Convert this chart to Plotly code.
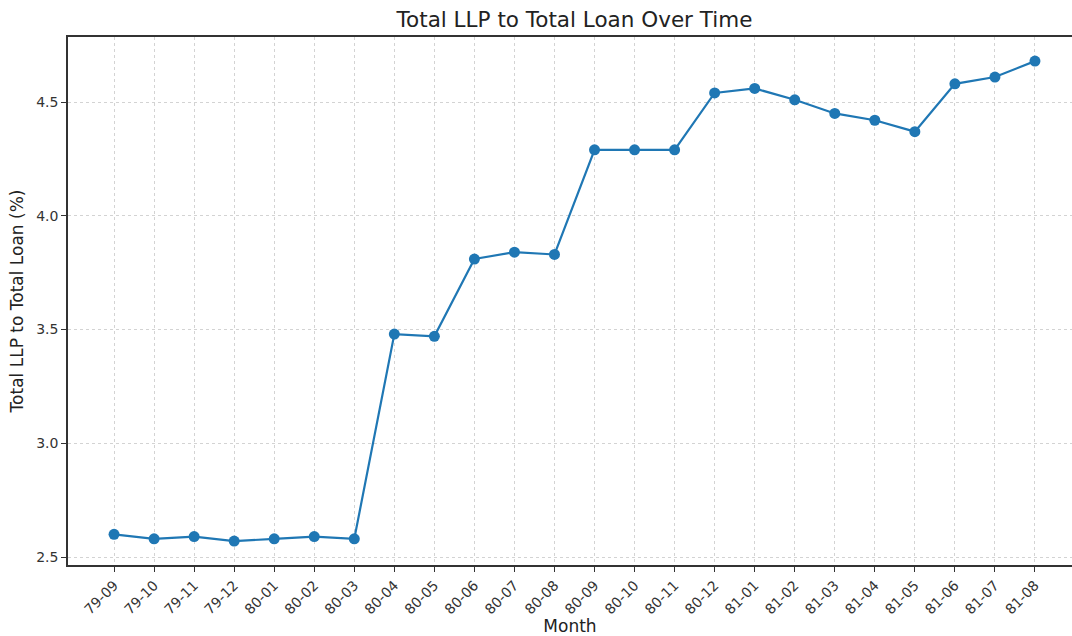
import plotly.graph_objects as go

months = ["79-09", "79-10", "79-11", "79-12", "80-01", "80-02", "80-03", "80-04",
          "80-05", "80-06", "80-07", "80-08", "80-09", "80-10", "80-11", "80-12",
          "81-01", "81-02", "81-03", "81-04", "81-05", "81-06", "81-07", "81-08"]
llp_ratio = [2.60, 2.58, 2.59, 2.57, 2.58, 2.59, 2.58, 3.48,
             3.47, 3.81, 3.84, 3.83, 4.29, 4.29, 4.29, 4.54,
             4.56, 4.51, 4.45, 4.42, 4.37, 4.58, 4.61, 4.68]
y_ticks = [2.5, 3.0, 3.5, 4.0, 4.5]
y_tick_text = ["2.5", "3.0", "3.5", "4.0", "4.5"]

idx = list(range(len(months)))

fig = go.Figure()
fig.add_trace(go.Scatter(
    x=idx, y=llp_ratio, mode="lines+markers",
    line=dict(color="#1f77b4", width=2.2),
    marker=dict(color="#1f77b4", size=11),
    showlegend=False,
))

font_family = "DejaVu Sans"
fig.update_layout(
    width=1072, height=636,
    margin=dict(l=68, r=0, t=37, b=71, autoexpand=False),
    paper_bgcolor="white", plot_bgcolor="white",
    font=dict(family=font_family, color="#333333", size=14),
    title=dict(text="Total LLP to Total Loan Over Time", x=574.5 / 1072, xanchor="center",
               y=1 - 19 / 636, yanchor="middle",
               font=dict(size=21.5, color="#222222", family=font_family)),
    xaxis=dict(
        range=[-1.15, -1.15 + (1072 - 68) / 40.04],
        tickmode="array", tickvals=idx, ticktext=months, tickangle=-45,
        showgrid=True, gridcolor="#d3d3d3", griddash="dot", gridwidth=1,
        showline=True, linecolor="#333333", linewidth=1.5, mirror=True,
        ticks="outside", ticklen=5, tickcolor="#333333",
        zeroline=False, automargin=False,
        tickfont=dict(size=14, color="#333333"),
        title=dict(text="Month", standoff=0, font=dict(size=17, color="#222222")),
    ),
    yaxis=dict(
        range=[2.465, 4.786],
        tickmode="array", tickvals=y_ticks, ticktext=y_tick_text,
        showgrid=True, gridcolor="#d3d3d3", griddash="dot", gridwidth=1,
        showline=True, linecolor="#333333", linewidth=1.5,
        ticks="outside", ticklen=5, tickcolor="#333333",
        zeroline=False, automargin=False,
        tickfont=dict(size=14, color="#333333"),
        title=dict(text="Total LLP to Total Loan (%)", standoff=8,
                   font=dict(size=17, color="#222222")),
    ),
)

fig.write_html("out.html", config={"displayModeBar": False},
               post_script="document.body.style.margin='0';")
